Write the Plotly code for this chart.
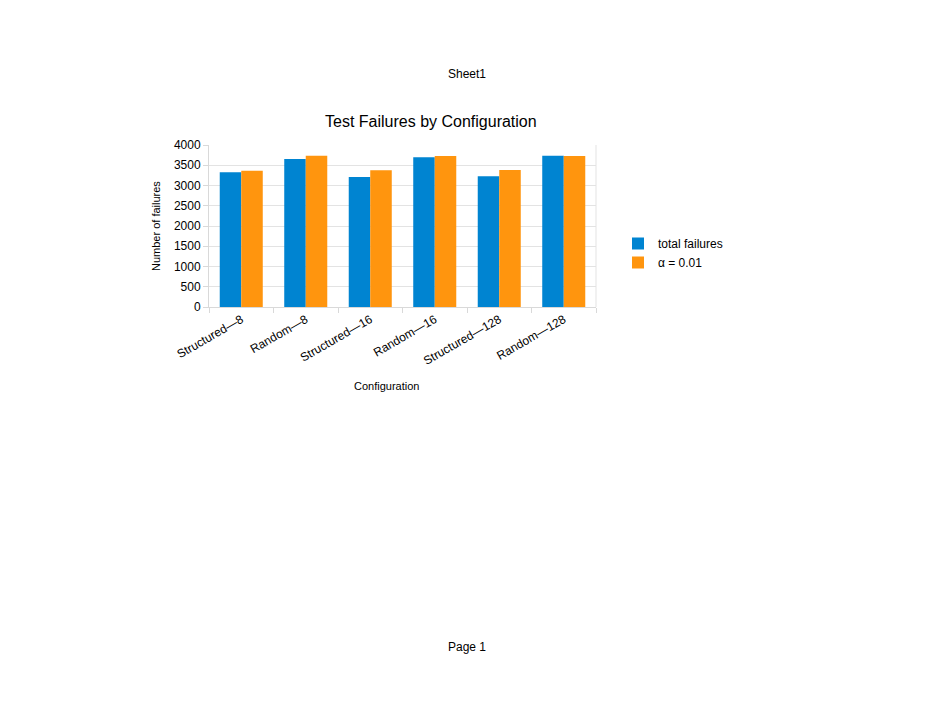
from plotly import graph_objects as go

configs = ["Structured—8", "Random—8", "Structured—16", "Random—16", "Structured—128", "Random—128"]
total_failures = [3327, 3654, 3211, 3696, 3228, 3736]
alpha_001 = [3366, 3736, 3376, 3728, 3383, 3728]
y_ticks = [0, 500, 1000, 1500, 2000, 2500, 3000, 3500, 4000]

W, H = 935, 723
off = 8  # page body margin in the browser
left, right, top, bottom = 209 - off, 596 - off, 145 - off, 307 - off  # plot area in page pixels


def px2paper(x, y):
    x, y = x - off, y - off
    return (x - left) / (right - left), (bottom - y) / (bottom - top)


fig = go.Figure()
fig.add_trace(go.Bar(x=configs, y=total_failures, name="total failures", marker_color="#0084d1",
                     marker_line_width=0))
fig.add_trace(go.Bar(x=configs, y=alpha_001, name="α = 0.01", marker_color="#ff950e",
                     marker_line_width=0))

font = "Liberation Sans, Arial, sans-serif"
annots = []
for txt, x, y, size in [("Sheet1", 467, 74, 12), ("Page 1", 467, 647, 12),
                        ("Test Failures by Configuration", 431, 121, 16),
                        ("Configuration", 386, 386, 11)]:
    px, py = px2paper(x, y)
    annots.append(dict(text=txt, x=px, y=py, xref="paper", yref="paper", showarrow=False,
                       xanchor="center", yanchor="middle", font=dict(size=size, color="#000000")))
px, py = px2paper(156, 226)
annots.append(dict(text="Number of failures", x=px, y=py, xref="paper", yref="paper", showarrow=False,
                   textangle=-90, xanchor="center", yanchor="middle", font=dict(size=11, color="#000000")))

lx, ly = px2paper(618, 229)
fig.update_layout(
    width=W, height=H,
    margin=dict(l=left, r=W - right, t=top, b=H - bottom, pad=0),
    paper_bgcolor="white", plot_bgcolor="white",
    font=dict(family=font, size=12, color="#000000"),
    barmode="group", bargap=0.333, bargroupgap=0,
    showlegend=True,
    legend=dict(x=lx, y=ly, xanchor="left", yanchor="top", font=dict(size=12),
                itemwidth=30, tracegroupgap=0),
    annotations=annots,
)
fig.update_xaxes(tickangle=-30, ticks="outside", tickson="boundaries", ticklen=5,
                 tickcolor="#d9d9d9", showline=True, linecolor="#d9d9d9", showgrid=False,
                 tickfont=dict(size=12), mirror=False)
fig.update_yaxes(range=[0, 4000], tickvals=y_ticks, ticks="outside", ticklen=5, tickcolor="#d9d9d9",
                 showline=True, linecolor="#d9d9d9", showgrid=True, gridcolor="#e3e3e3",
                 zeroline=False, tickfont=dict(size=12), mirror=False)
# right border of plot area
fig.add_shape(type="line", xref="paper", yref="paper", x0=1, x1=1, y0=0, y1=1,
              line=dict(color="#e3e3e3", width=1))

fig.write_html("out.html")
